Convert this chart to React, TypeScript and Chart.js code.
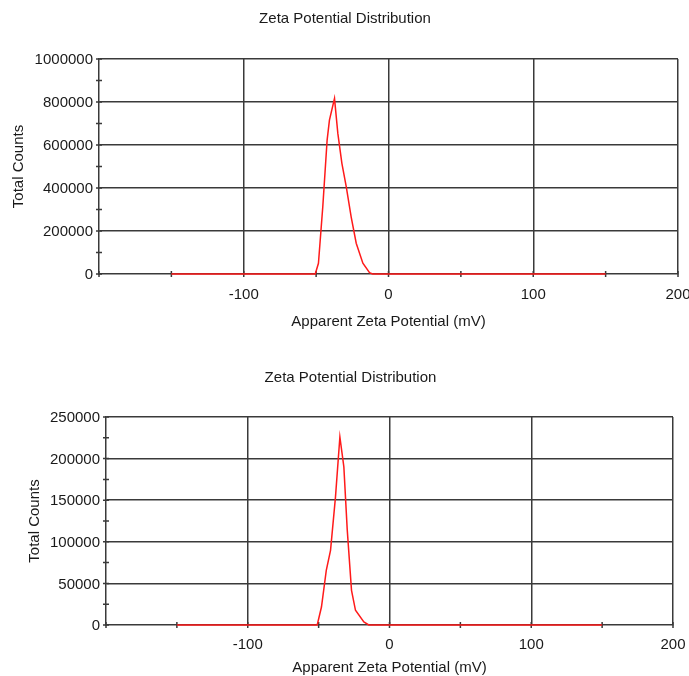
import React, { useEffect, useRef } from 'react';
import { Chart, registerables } from 'chart.js';

Chart.register(...registerables);

const chartTitle = 'Zeta Potential Distribution';
const xAxisTitle = 'Apparent Zeta Potential (mV)';
const yAxisTitle = 'Total Counts';

// Top chart
const zeta1 = [-150, -50.6, -48.4, -45.4, -42.4, -40.8, -37.3, -35, -32.2, -29.2, -25.8, -22.3, -17.7, -13.1, -11, 150];
const counts1 = [0, 0, 50000, 313000, 623000, 716000, 817000, 654000, 515000, 406000, 266000, 143000, 50000, 6000, 0, 0];
const yTickLabels1 = ['0', '200000', '400000', '600000', '800000', '1000000'];

// Bottom chart
const zeta2 = [-150, -51, -48, -44.6, -41.6, -38.1, -35, -32.2, -29.8, -26.8, -24, -18.1, -14.6, 150];
const counts2 = [0, 0, 21600, 65700, 89800, 154000, 226000, 190000, 114000, 41700, 17700, 3600, 0, 0];
const yTickLabels2 = ['0', '50000', '100000', '150000', '200000', '250000'];

const xTickLabels = ['-100', '0', '100', '200'];

const FONT = "'Liberation Sans', Arial, sans-serif";
const TEXT = '#1a1a1a';
const GRID = '#3a3a3a';

const crossTicks = {
  id: 'crossTicks',
  beforeDatasetsDraw(chart: any) {
    const { ctx, chartArea, scales } = chart;
    ctx.save();
    ctx.strokeStyle = GRID;
    ctx.lineWidth = 1.5;
    ctx.beginPath();
    for (const t of scales.y.ticks) {
      const py = scales.y.getPixelForValue(t.value);
      ctx.moveTo(chartArea.left - 3, py);
      ctx.lineTo(chartArea.left + 3, py);
    }
    for (const t of scales.x.ticks) {
      const px = scales.x.getPixelForValue(t.value);
      ctx.moveTo(px, chartArea.bottom - 3);
      ctx.lineTo(px, chartArea.bottom + 3);
    }
    ctx.stroke();
    ctx.restore();
  },
};

type Cfg = {
  zeta: number[];
  counts: number[];
  yMax: number;
  yStep: number;
  yLabels: string[];
  yAxisWidth: number;
  yTitlePad: number;
  xAxisHeight: number;
  xTickPad: number;
  xTitlePadBottom: number;
  titlePad: { top: number; bottom: number };
  layoutPad: { left: number; right: number; top: number; bottom: number };
  width: number;
  height: number;
};

function ZetaChart(props: Cfg) {
  const ref = useRef<HTMLCanvasElement>(null);
  useEffect(() => {
    const c = props;
    const data = c.zeta.map((z, i) => ({ x: z, y: c.counts[i] }));
    const chart = new Chart(ref.current as HTMLCanvasElement, {
      type: 'line',
      data: {
        datasets: [
          {
            data,
            borderColor: '#ff1a1a',
            borderWidth: 1.5,
            pointRadius: 0,
            tension: 0,
            fill: false,
            clip: false,
          },
        ],
      },
      options: {
        responsive: false,
        animation: false,
        devicePixelRatio: 1,
        layout: { padding: c.layoutPad },
        plugins: {
          legend: { display: false },
          tooltip: { enabled: false },
          title: {
            display: true,
            text: chartTitle,
            color: TEXT,
            font: { family: FONT, size: 15, weight: 'normal' },
            padding: c.titlePad,
          },
        },
        scales: {
          x: {
            type: 'linear',
            min: -200,
            max: 200,
            afterFit: (s: any) => {
              s.height = c.xAxisHeight;
              s.paddingLeft = 0;
              s.paddingRight = 0;
            },
            ticks: {
              stepSize: 50,
              autoSkip: false,
              maxRotation: 0,
              padding: c.xTickPad,
              color: TEXT,
              font: { family: FONT, size: 15 },
              callback: (v: any) => (xTickLabels.includes(String(v)) ? String(v) : ''),
            },
            grid: {
              drawTicks: false,
              lineWidth: 1.5,
              color: (ctx: any) =>
                ctx.tick && ctx.tick.value % 100 === 0 && ctx.tick.value !== -200 ? GRID : 'rgba(0,0,0,0)',
            },
            border: { display: true, color: GRID, width: 1.5 },
            title: {
              display: true,
              text: xAxisTitle,
              color: TEXT,
              font: { family: FONT, size: 15 },
              padding: { top: 4, bottom: c.xTitlePadBottom },
            },
          },
          y: {
            type: 'linear',
            min: 0,
            max: c.yMax,
            afterFit: (s: any) => {
              s.width = c.yAxisWidth;
            },
            ticks: {
              stepSize: c.yStep,
              autoSkip: false,
              padding: 6,
              labelOffset: 1,
              color: TEXT,
              font: { family: FONT, size: 15 },
              callback: (v: any) => (c.yLabels.includes(String(v)) ? String(v) : ''),
            },
            grid: {
              drawTicks: false,
              lineWidth: 1.5,
              color: (ctx: any) =>
                ctx.tick && ctx.tick.value % (c.yStep * 2) === 0 && ctx.tick.value !== 0 ? GRID : 'rgba(0,0,0,0)',
            },
            border: { display: true, color: GRID, width: 1.5 },
            title: {
              display: true,
              text: yAxisTitle,
              color: TEXT,
              font: { family: FONT, size: 15 },
              padding: { top: c.yTitlePad, bottom: 0 },
            },
          },
        },
      },
      plugins: [crossTicks],
    } as any);
    return () => chart.destroy();
  }, []);
  return <canvas ref={ref} width={props.width} height={props.height} style={{ display: 'block' }} />;
}

export default function App() {
  return (
    <div style={{ position: 'absolute', left: 0, top: 0, width: 689, height: 676, background: '#fff', overflow: 'hidden' }}>
      <div style={{ position: 'absolute', left: 0, top: 0 }}>
        <ZetaChart
          zeta={zeta1}
          counts={counts1}
          yMax={1000000}
          yStep={100000}
          yLabels={yTickLabels1}
          yAxisWidth={87}
          yTitlePad={-2.5}
          xAxisHeight={57}
          xTickPad={12}
          xTitlePadBottom={0}
          titlePad={{ top: 10, bottom: 31 }}
          layoutPad={{ left: 12, right: 11, top: 0, bottom: 19 }}
          width={689}
          height={350}
        />
      </div>
      <div style={{ position: 'absolute', left: 0, top: 350 }}>
        <ZetaChart
          zeta={zeta2}
          counts={counts2}
          yMax={250000}
          yStep={25000}
          yLabels={yTickLabels2}
          yAxisWidth={78}
          yTitlePad={-2.5}
          xAxisHeight={50}
          xTickPad={11}
          xTitlePadBottom={-2}
          titlePad={{ top: 19, bottom: 30 }}
          layoutPad={{ left: 28, right: 16, top: 0, bottom: 1 }}
          width={689}
          height={326}
        />
      </div>
    </div>
  );
}
